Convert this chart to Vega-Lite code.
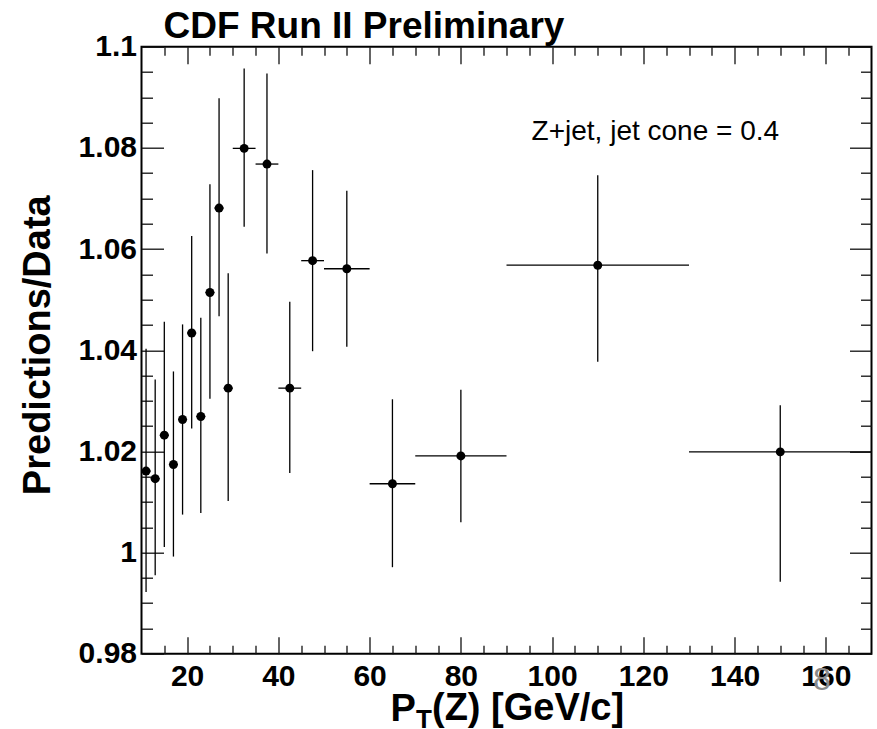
{
  "$schema": "https://vega.github.io/schema/vega-lite/v6.json",
  "width": 730,
  "height": 607,
  "autosize": {"type": "none"},
  "padding": {"left": 141.5, "top": 46.7, "right": 5.5, "bottom": 75.3},
  "background": "white",
  "config": {
    "view": {"stroke": "black", "strokeWidth": 2},
    "axis": {
      "grid": false,
      "domain": false,
      "tickColor": "#111",
      "tickWidth": 1.3,
      "labelFont": "Liberation Sans",
      "labelFontWeight": "bold",
      "labelFontSize": 30,
      "labelColor": "black",
      "labelFlush": false,
      "labelOverlap": false,
      "titleFont": "Liberation Sans",
      "titleFontWeight": "bold",
      "titleColor": "black"
    }
  },
  "data": {
    "values": [
      {"pt": 11, "pt_lo": 10, "pt_hi": 12, "ratio": 1.0161, "ratio_lo": 0.9922, "ratio_hi": 1.0403},
      {"pt": 13, "pt_lo": 12, "pt_hi": 14, "ratio": 1.0146, "ratio_lo": 0.9955, "ratio_hi": 1.0342},
      {"pt": 15, "pt_lo": 14, "pt_hi": 16, "ratio": 1.0232, "ratio_lo": 1.0011, "ratio_hi": 1.0456},
      {"pt": 17, "pt_lo": 16, "pt_hi": 18, "ratio": 1.0174, "ratio_lo": 0.9992, "ratio_hi": 1.0358},
      {"pt": 19, "pt_lo": 18, "pt_hi": 20, "ratio": 1.0263, "ratio_lo": 1.0075, "ratio_hi": 1.0451},
      {"pt": 21, "pt_lo": 20, "pt_hi": 22, "ratio": 1.0434, "ratio_lo": 1.0245, "ratio_hi": 1.0626},
      {"pt": 23, "pt_lo": 22, "pt_hi": 24, "ratio": 1.0269, "ratio_lo": 1.0078, "ratio_hi": 1.0464},
      {"pt": 25, "pt_lo": 24, "pt_hi": 26, "ratio": 1.0514, "ratio_lo": 1.0304, "ratio_hi": 1.0728},
      {"pt": 27, "pt_lo": 26, "pt_hi": 28, "ratio": 1.0681, "ratio_lo": 1.0467, "ratio_hi": 1.0898},
      {"pt": 29, "pt_lo": 28, "pt_hi": 30, "ratio": 1.0325, "ratio_lo": 1.0102, "ratio_hi": 1.0552},
      {"pt": 32.5, "pt_lo": 30, "pt_hi": 35, "ratio": 1.0799, "ratio_lo": 1.0644, "ratio_hi": 1.0957},
      {"pt": 37.5, "pt_lo": 35, "pt_hi": 40, "ratio": 1.0768, "ratio_lo": 1.0591, "ratio_hi": 1.0947},
      {"pt": 42.5, "pt_lo": 40, "pt_hi": 45, "ratio": 1.0325, "ratio_lo": 1.0157, "ratio_hi": 1.0496},
      {"pt": 47.5, "pt_lo": 45, "pt_hi": 50, "ratio": 1.0577, "ratio_lo": 1.0398, "ratio_hi": 1.0756},
      {"pt": 55, "pt_lo": 50, "pt_hi": 60, "ratio": 1.0561, "ratio_lo": 1.0407, "ratio_hi": 1.0715},
      {"pt": 65, "pt_lo": 60, "pt_hi": 70, "ratio": 1.0136, "ratio_lo": 0.9971, "ratio_hi": 1.0303},
      {"pt": 80, "pt_lo": 70, "pt_hi": 90, "ratio": 1.0191, "ratio_lo": 1.006, "ratio_hi": 1.0322},
      {"pt": 110, "pt_lo": 90, "pt_hi": 130, "ratio": 1.0568, "ratio_lo": 1.0377, "ratio_hi": 1.0746},
      {"pt": 150, "pt_lo": 130, "pt_hi": 170, "ratio": 1.0199, "ratio_lo": 0.9942, "ratio_hi": 1.0291}
    ]
  },
  "resolve": {"axis": {"x": "independent", "y": "independent"}},
  "layer": [
    {
      "mark": {"type": "rule", "color": "black", "strokeWidth": 1.3},
      "encoding": {
        "x": {
          "field": "pt", "type": "quantitative",
          "scale": {"domain": [10, 170], "nice": false, "zero": false},
          "axis": {
            "orient": "bottom",
            "values": [20, 40, 60, 80, 100, 120, 140, 160],
            "tickSize": -17,
            "labelPadding": 25,
            "format": "d",
            "title": "P",
            "titleFontSize": 38,
            "titleX": 248.5,
            "titleY": 67,
            "titleAlign": "left",
            "titleBaseline": "alphabetic",
            "titleAnchor": null
          }
        },
        "y": {
          "field": "ratio_lo", "type": "quantitative",
          "scale": {"domain": [0.98, 1.1], "nice": false, "zero": false},
          "axis": {
            "orient": "left",
            "values": [0.98, 1, 1.02, 1.04, 1.06, 1.08, 1.1],
            "tickSize": -22,
            "labelPadding": 27,
            "format": "~g",
            "title": "Predictions/Data",
            "titleFontSize": 38,
            "titleX": -92.5,
            "titleY": 298,
            "titleAngle": -90,
            "titleAlign": "center",
            "titleBaseline": "alphabetic"
          }
        },
        "y2": {"field": "ratio_hi"}
      }
    },
    {
      "mark": {"type": "rule", "color": "black", "strokeWidth": 1.3},
      "encoding": {
        "x": {
          "field": "pt_lo", "type": "quantitative",
          "scale": {"domain": [10, 170], "nice": false, "zero": false},
          "axis": {
            "orient": "bottom",
            "values": [15, 25, 30, 35, 45, 50, 55, 65, 70, 75, 85, 90, 95, 105, 110, 115, 125, 130, 135, 145, 150, 155, 165],
            "tickSize": -8.5,
            "labels": false,
            "title": "T",
            "titleFontSize": 26,
            "titleX": 274,
            "titleY": 74,
            "titleAlign": "left",
            "titleBaseline": "alphabetic"
          }
        },
        "x2": {"field": "pt_hi"},
        "y": {
          "field": "ratio", "type": "quantitative",
          "scale": {"domain": [0.98, 1.1], "nice": false, "zero": false},
          "axis": {
            "orient": "left",
            "values": [0.985, 0.99, 0.995, 1.005, 1.01, 1.015, 1.025, 1.03, 1.035, 1.045, 1.05, 1.055, 1.065, 1.07, 1.075, 1.085, 1.09, 1.095],
            "tickSize": -11,
            "labels": false,
            "title": null
          }
        }
      }
    },
    {
      "mark": {"type": "circle", "color": "black", "opacity": 1, "size": 80},
      "encoding": {
        "x": {
          "field": "pt", "type": "quantitative",
          "scale": {"domain": [10, 170], "nice": false, "zero": false},
          "axis": {
            "orient": "top",
            "values": [20, 40, 60, 80, 100, 120, 140, 160],
            "tickSize": -17,
            "labels": false,
            "title": "CDF Run II Preliminary",
            "titleFontSize": 37,
            "titleX": 21.5,
            "titleY": -9.5,
            "titleAlign": "left",
            "titleBaseline": "alphabetic"
          }
        },
        "y": {
          "field": "ratio", "type": "quantitative",
          "scale": {"domain": [0.98, 1.1], "nice": false, "zero": false},
          "axis": {
            "orient": "right",
            "values": [0.98, 1, 1.02, 1.04, 1.06, 1.08, 1.1],
            "tickSize": -22,
            "labels": false,
            "title": "(Z) [GeV/c]",
            "titleAngle": 0,
            "titleFontSize": 38,
            "titleX": -440,
            "titleY": 673,
            "titleAlign": "left",
            "titleBaseline": "alphabetic"
          }
        }
      }
    },
    {
      "data": {"values": [{"note": "Z+jet, jet cone = 0.4"}]},
      "mark": {"type": "text", "font": "Liberation Sans", "fontSize": 28, "color": "black", "align": "left", "baseline": "alphabetic"},
      "encoding": {
        "text": {"field": "note"},
        "x": {
          "datum": 95.5, "type": "quantitative",
          "scale": {"domain": [10, 170], "nice": false, "zero": false},
          "axis": {
            "orient": "top",
            "values": [15, 25, 30, 35, 45, 50, 55, 65, 70, 75, 85, 90, 95, 105, 110, 115, 125, 130, 135, 145, 150, 155, 165],
            "tickSize": -8.5,
            "labels": false,
            "title": null
          }
        },
        "y": {
          "datum": 1.0815, "type": "quantitative",
          "scale": {"domain": [0.98, 1.1], "nice": false, "zero": false},
          "axis": {
            "orient": "right",
            "values": [0.985, 0.99, 0.995, 1.005, 1.01, 1.015, 1.025, 1.03, 1.035, 1.045, 1.05, 1.055, 1.065, 1.07, 1.075, 1.085, 1.09, 1.095],
            "tickSize": -11,
            "labels": false,
            "title": "8",
            "titleAngle": 0,
            "titleColor": "#8a8a8a",
            "titleFontWeight": "normal",
            "titleFontSize": 32,
            "titleX": -50,
            "titleY": 643,
            "titleAlign": "center",
            "titleBaseline": "alphabetic"
          }
        }
      }
    }
  ]
}
